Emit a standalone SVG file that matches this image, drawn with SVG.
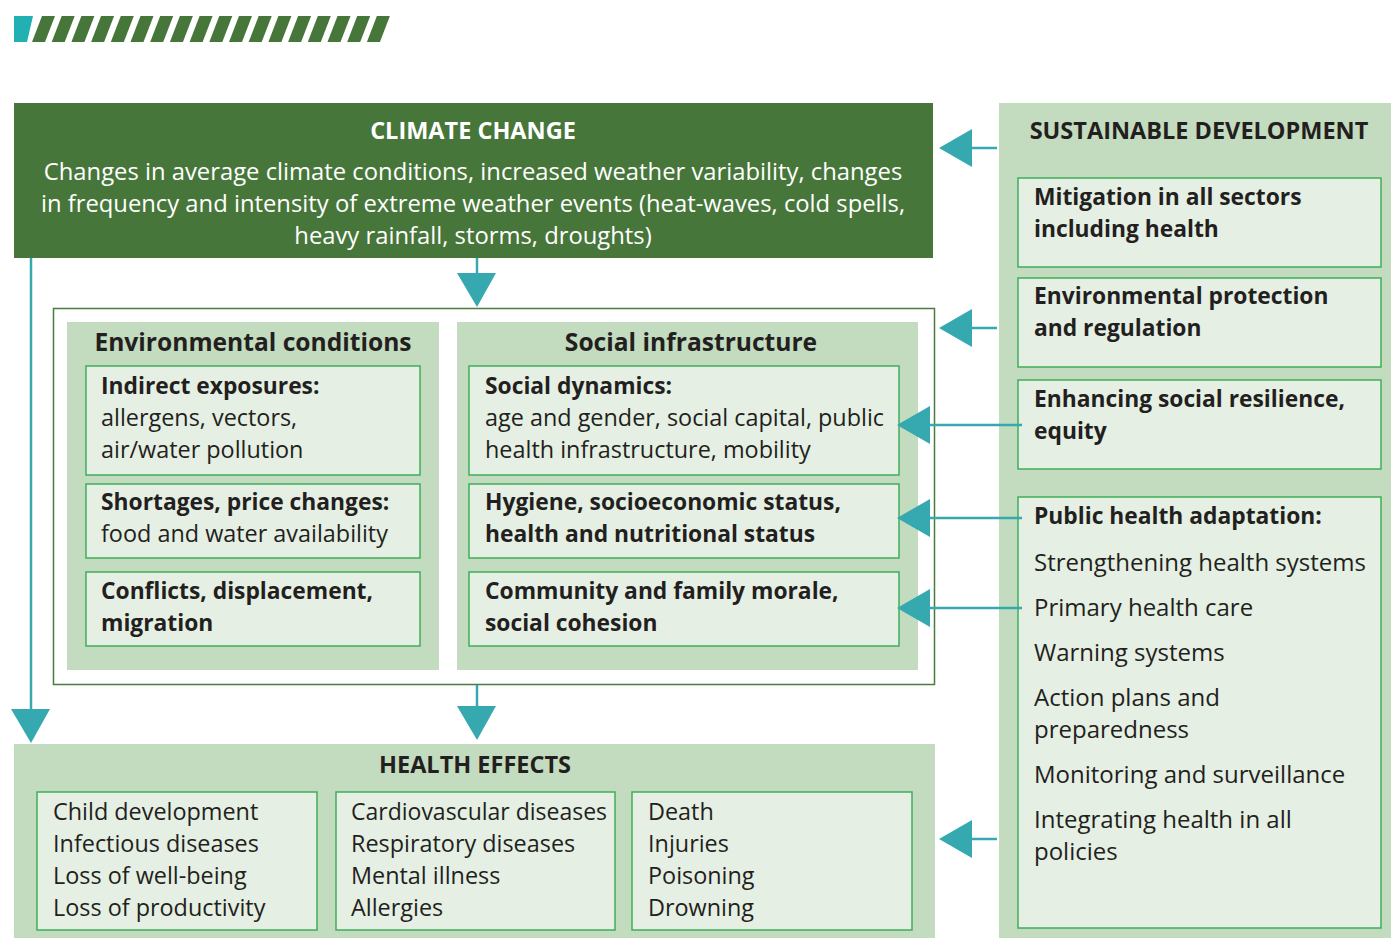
<svg xmlns="http://www.w3.org/2000/svg" width="1391" height="938" viewBox="0 0 1391 938">
<style>
text{font-family:"Open Sans","Noto Sans","Liberation Sans",sans-serif;fill:#231f20;font-size:24px}
.b{font-weight:700;font-size:22.8px}
.h{font-weight:700;font-size:24.6px}
.t{font-weight:700;font-size:23.5px}
.r{font-size:23.4px}
.w{fill:#ffffff}
.c{text-anchor:middle}
.panel{fill:#c3dbbe}
.inner{fill:#e5efe3;stroke:#3fae5a;stroke-width:1.5}
.teal{fill:#36a9b0}
.ln{stroke:#36a9b0;stroke-width:2.5;fill:none}
</style>
<g id="stripes">
<polygon points="14,16 33,16 27,42 14,42" fill="#22b0b3"/>
<g fill="#47763a">
<polygon points="32,42 45,42 55,16 42,16"/>
<polygon points="51.7,42 64.7,42 74.7,16 61.7,16"/>
<polygon points="71.4,42 84.4,42 94.4,16 81.4,16"/>
<polygon points="91.1,42 104.1,42 114.1,16 101.1,16"/>
<polygon points="110.8,42 123.8,42 133.8,16 120.8,16"/>
<polygon points="130.5,42 143.5,42 153.5,16 140.5,16"/>
<polygon points="150.2,42 163.2,42 173.2,16 160.2,16"/>
<polygon points="169.9,42 182.9,42 192.9,16 179.9,16"/>
<polygon points="189.6,42 202.6,42 212.6,16 199.6,16"/>
<polygon points="209.3,42 222.3,42 232.3,16 219.3,16"/>
<polygon points="229,42 242,42 252,16 239,16"/>
<polygon points="248.7,42 261.7,42 271.7,16 258.7,16"/>
<polygon points="268.4,42 281.4,42 291.4,16 278.4,16"/>
<polygon points="288.1,42 301.1,42 311.1,16 298.1,16"/>
<polygon points="307.8,42 320.8,42 330.8,16 317.8,16"/>
<polygon points="327.5,42 340.5,42 350.5,16 337.5,16"/>
<polygon points="347.2,42 360.2,42 370.2,16 357.2,16"/>
<polygon points="366.9,42 379.9,42 389.9,16 376.9,16"/>
</g>
</g>

<g id="climate-change">
<rect x="14" y="103" width="919" height="155" fill="#47763a"/>
<text class="w c t" x="473" y="139">CLIMATE CHANGE</text>
<text class="w c" x="473" y="180" style="font-size:23.8px">Changes in average climate conditions, increased weather variability, changes</text>
<text class="w c" x="473" y="212" style="font-size:23.8px">in frequency and intensity of extreme weather events (heat-waves, cold spells,</text>
<text class="w c" x="473" y="244" style="font-size:23.8px">heavy rainfall, storms, droughts)</text>
</g>

<g id="sustainable-development">
<rect class="panel" x="999" y="103" width="392" height="835"/>
<text class="c t" x="1199" y="139">SUSTAINABLE DEVELOPMENT</text>
</g>
<g id="sd-mitigation">
<rect class="inner" x="1018" y="178" width="363" height="89"/>
<text class="b" x="1034" y="205">Mitigation in all sectors</text>
<text class="b" x="1034" y="237">including health</text>
</g>
<g id="sd-environmental">
<rect class="inner" x="1018" y="278" width="363" height="89"/>
<text class="b" x="1034" y="304">Environmental protection</text>
<text class="b" x="1034" y="336">and regulation</text>
</g>
<g id="sd-social">
<rect class="inner" x="1018" y="380" width="363" height="89"/>
<text class="b" x="1034" y="407">Enhancing social resilience,</text>
<text class="b" x="1034" y="439">equity</text>
</g>
<g id="sd-public-health">
<rect class="inner" x="1018" y="497" width="363" height="431"/>
<text class="b" x="1034" y="524">Public health adaptation:</text>
<text x="1034" y="571">Strengthening health systems</text>
<text x="1034" y="616">Primary health care</text>
<text x="1034" y="661">Warning systems</text>
<text x="1034" y="706">Action plans and</text>
<text x="1034" y="738">preparedness</text>
<text x="1034" y="783">Monitoring and surveillance</text>
<text x="1034" y="828">Integrating health in all</text>
<text x="1034" y="860">policies</text>
</g>

<g id="determinants">
<rect x="53.5" y="308.5" width="881" height="376" fill="#ffffff" stroke="#4a7c3f" stroke-width="1.5"/>
</g>
<g id="environmental-conditions">
<rect class="panel" x="67" y="322" width="372" height="348"/>
<text class="h c" x="253" y="351">Environmental conditions</text>
</g>
<g id="env-indirect">
<rect class="inner" x="86" y="366" width="334" height="109"/>
<text class="b" x="101" y="394">Indirect exposures:</text>
<text class="r" x="101" y="426">allergens, vectors,</text>
<text class="r" x="101" y="458">air/water pollution</text>
</g>
<g id="env-shortages">
<rect class="inner" x="86" y="484" width="334" height="74"/>
<text class="b" x="101" y="510">Shortages, price changes:</text>
<text class="r" x="101" y="542">food and water availability</text>
</g>
<g id="env-conflicts">
<rect class="inner" x="86" y="572" width="334" height="74"/>
<text class="b" x="101" y="599">Conflicts, displacement,</text>
<text class="b" x="101" y="631">migration</text>
</g>

<g id="social-infrastructure">
<rect class="panel" x="457" y="322" width="461" height="348"/>
<text class="h c" x="691" y="351">Social infrastructure</text>
</g>
<g id="soc-dynamics">
<rect class="inner" x="469" y="366" width="430" height="109"/>
<text class="b" x="485" y="394">Social dynamics:</text>
<text class="r" x="485" y="426">age and gender, social capital, public</text>
<text class="r" x="485" y="458">health infrastructure, mobility</text>
</g>
<g id="soc-hygiene">
<rect class="inner" x="469" y="484" width="430" height="74"/>
<text class="b" x="485" y="510">Hygiene, socioeconomic status,</text>
<text class="b" x="485" y="542">health and nutritional status</text>
</g>
<g id="soc-community">
<rect class="inner" x="469" y="572" width="430" height="74"/>
<text class="b" x="485" y="599">Community and family morale,</text>
<text class="b" x="485" y="631">social cohesion</text>
</g>

<g id="health-effects">
<rect class="panel" x="14" y="744" width="921" height="194"/>
<text class="c t" x="475" y="773">HEALTH EFFECTS</text>
</g>
<g id="he-col1">
<rect class="inner" x="37" y="792" width="280" height="138"/>
<text class="r" x="53" y="820">Child development</text>
<text class="r" x="53" y="852">Infectious diseases</text>
<text class="r" x="53" y="884">Loss of well-being</text>
<text class="r" x="53" y="916">Loss of productivity</text>
</g>
<g id="he-col2">
<rect class="inner" x="336" y="792" width="279" height="138"/>
<text class="r" x="351" y="820" style="font-size:23px">Cardiovascular diseases</text>
<text class="r" x="351" y="852">Respiratory diseases</text>
<text class="r" x="351" y="884">Mental illness</text>
<text class="r" x="351" y="916">Allergies</text>
</g>
<g id="he-col3">
<rect class="inner" x="632" y="792" width="280" height="138"/>
<text class="r" x="648" y="820">Death</text>
<text class="r" x="648" y="852">Injuries</text>
<text class="r" x="648" y="884">Poisoning</text>
<text class="r" x="648" y="916">Drowning</text>
</g>

<g id="connectors">
<line class="ln" x1="972" y1="148" x2="997" y2="148"/>
<polygon class="teal" points="939,148 972,129 972,167"/>
<line class="ln" x1="972" y1="328" x2="997" y2="328"/>
<polygon class="teal" points="939,328 972,309 972,347"/>
<line class="ln" x1="972" y1="839" x2="997" y2="839"/>
<polygon class="teal" points="939,839 972,820 972,858"/>
<line class="ln" x1="929" y1="425" x2="1022" y2="425"/>
<polygon class="teal" points="897,425 930,406 930,444"/>
<line class="ln" x1="929" y1="518" x2="1022" y2="518"/>
<polygon class="teal" points="897,518 930,499 930,537"/>
<line class="ln" x1="929" y1="608" x2="1022" y2="608"/>
<polygon class="teal" points="897,608 930,589 930,627"/>
<line class="ln" x1="477" y1="258" x2="477" y2="274"/>
<polygon class="teal" points="457,273 496,273 477,307"/>
<line class="ln" x1="477" y1="685" x2="477" y2="707"/>
<polygon class="teal" points="457,706 496,706 477,740"/>
<line class="ln" x1="31" y1="258" x2="31" y2="710"/>
<polygon class="teal" points="11,709 50,709 31,743"/>
</g>
</svg>
